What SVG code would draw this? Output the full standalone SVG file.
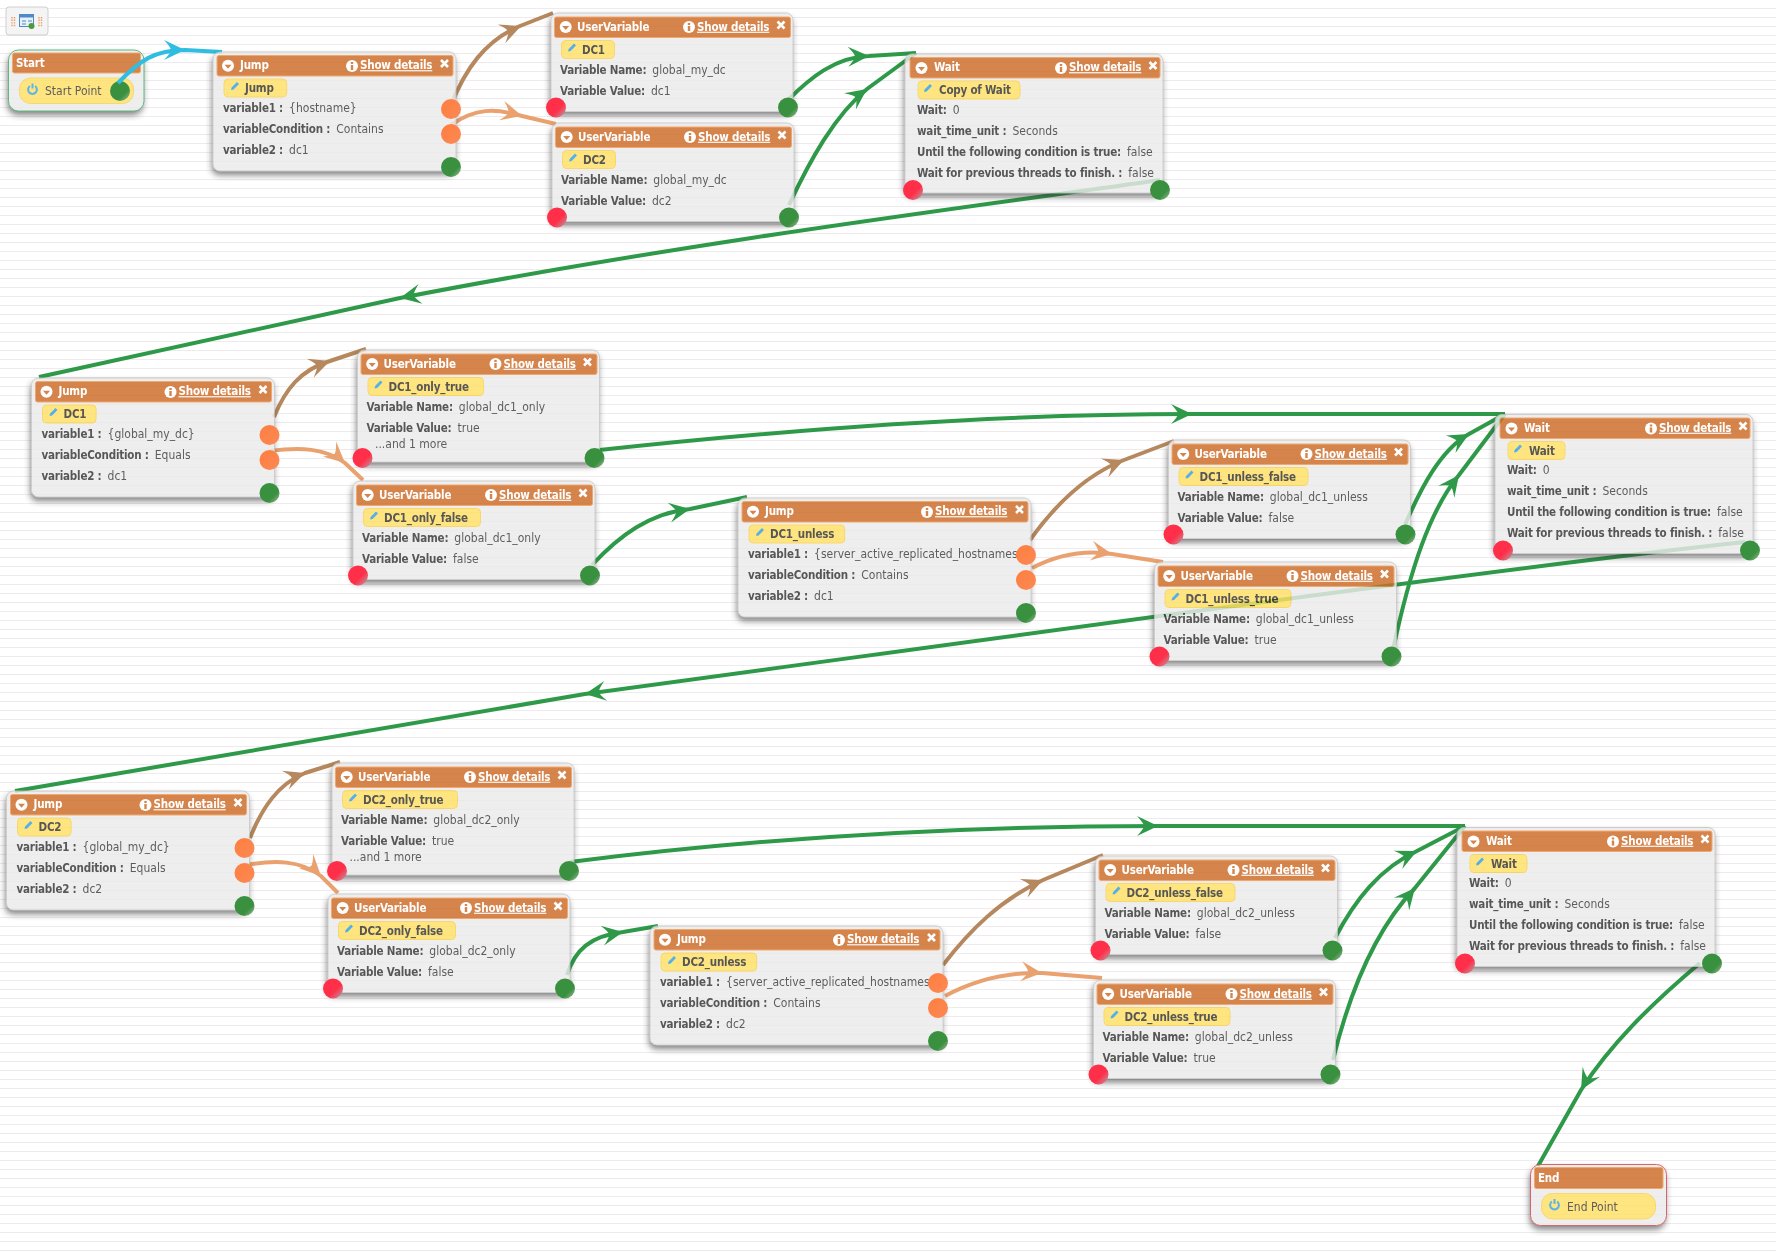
<svg xmlns="http://www.w3.org/2000/svg" width="1776" height="1253" viewBox="0 0 1776 1253">
<style>
text{font-family:"DejaVu Sans",sans-serif;font-stretch:condensed;font-size:12px}
.b{opacity:.82}
.sh{fill:#000;filter:url(#sh)}
.bx{fill:#ebebeb;stroke:#c4c4c4;stroke-width:1}
.hd{fill:#cc6a26;stroke:#ee9550;stroke-width:1}
.pl{fill:#ffe064;stroke:#f7cf50;stroke-width:1}
.ti{fill:#fff;font-weight:bold;font-size:11.5px;letter-spacing:-.2px;transform:translateY(-.8px)}
.sd{fill:#fff;font-weight:bold;font-size:11.5px;letter-spacing:-.2px;text-decoration:underline;transform:translateY(-.8px)}
.k{fill:#333;font-weight:bold;font-size:11.5px;letter-spacing:-.2px}
.v{fill:#3a3a3a}
.nm{fill:#333;font-weight:bold;font-size:11.5px;letter-spacing:-.2px}
.c{fill:none;stroke-width:4;stroke-linecap:butt}
.bl{stroke:#2fbde0}.br{stroke:#b5885e}.or{stroke:#e9a26f}.gr{stroke:#2e9a49}
.fbl{fill:#2fbde0}.fbr{fill:#b5885e}.for{fill:#e9a26f}.fgr{fill:#2e9a49}
</style>
<defs>
<pattern id="bg" width="9" height="9" patternUnits="userSpaceOnUse"><rect y="8" width="9" height="1" fill="#efeaed"/></pattern>
<filter id="sh" x="-10%" y="-15%" width="120%" height="140%"><feGaussianBlur in="SourceAlpha" stdDeviation="3"/><feOffset dx="-1" dy="4" result="o"/><feFlood flood-color="#333" flood-opacity=".75"/><feComposite in2="o" operator="in"/><feComposite in2="SourceAlpha" operator="out"/></filter>
<linearGradient id="gg" x1="0" y1="0" x2="1" y2="1"><stop offset=".68" stop-color="#39913f"/><stop offset="1" stop-color="#a8b8a0"/></linearGradient>
<linearGradient id="gr" x1="0" y1="0" x2="1" y2="1"><stop offset=".6" stop-color="#ff2f4a"/><stop offset="1" stop-color="#b8a0a4"/></linearGradient>
<linearGradient id="go" x1="0" y1="0" x2="1" y2="1"><stop offset="0" stop-color="#ff7d3f"/><stop offset="1" stop-color="#fb8a55"/></linearGradient>
<circle id="pg" r="10" fill="url(#gg)"/>
<circle id="pr" r="10" fill="url(#gr)"/>
<circle id="po" r="10" fill="url(#go)"/>
<path id="ah" d="M0 0L-21 -10Q-14 -2.5 -14 0Q-14 2.5 -21 10Z"/>
<g id="col"><circle r="6" fill="#fff"/><path d="M-3.5 -1H3.5L0 3Z" fill="#cc6a26"/></g>
<g id="inf"><circle r="6" fill="#fff"/><rect x="-1.2" y="-4" width="2.4" height="2" fill="#cc6a26"/><rect x="-1.2" y="-1" width="2.4" height="5" fill="#cc6a26"/></g>
<path id="cl" d="M-3.5 -3.5L3.5 3.5M3.5 -3.5L-3.5 3.5" stroke="#fff" stroke-width="2.6" fill="none"/>
<path id="pn" d="M-4 4L-3.4 1.4L2 -4L4 -2L-1.4 3.4Z" fill="#2f9fe8"/>
<g id="pw" fill="none" stroke="#35a6e6" stroke-width="2"><path d="M-2.6 -3A4.4 4.4 0 1 0 2.6 -3"/><path d="M0 -5.5V-.5"/></g>
</defs>
<rect width="1776" height="1253" fill="#fff"/>
<rect width="1776" height="1253" fill="url(#bg)"/>

<g id="palette">
<rect x="6" y="7" width="42" height="28" rx="3" fill="#f4f4f4" stroke="#cfcfcf"/>
<path d="M12 17V27M14.5 17V27M39 17V27M41.5 17V27" stroke="#ee9a60" stroke-width="1.4" stroke-dasharray="1.4 1.2" fill="none"/>
<rect x="19.5" y="14.5" width="14" height="12" fill="#e8f0fa" stroke="#4d8ac8"/>
<rect x="19.5" y="14.5" width="14" height="3" fill="#4d8ac8"/>
<path d="M22 21H26M22 24H26M28 21H32" stroke="#4d8ac8" fill="none"/>
<circle cx="31.5" cy="26" r="3" fill="#4c9a3c"/>
</g>

<g id="start" transform="translate(8.5,50)"><g class="b"><rect class="sh" width="135.5" height="61" rx="10"/><rect width="135.5" height="61" rx="10" fill="#ebebeb" stroke="#3fa968"/><rect class="hd" x="4" y="3" width="128" height="20" rx="2"/><rect class="pl" x="11" y="28" width="114" height="25.5" rx="11"/><use href="#pw" x="24" y="39"/><text class="ti" x="7.5" y="17.5">Start</text><text class="v" x="36.5" y="45">Start Point</text></g><use href="#pg" x="111.5" y="41"/></g>

<g id="connectors">
<path class="c bl" d="M118 83C140 60 155 50 185 50L222 52"/><use href="#ah" class="fbl" transform="translate(185,50)"/>
<path class="c br" d="M451 105C465 70 485 40 520 26L553 13"/><use href="#ah" class="fbr" transform="translate(521,26) rotate(-22)"/>
<path class="c or" d="M451 125C475 108 495 108 522 116L556 124"/><use href="#ah" class="for" transform="translate(522,116) rotate(15)"/>
<path class="c gr" d="M788 100C810 78 835 57 869 56L916 53"/><use href="#ah" class="fgr" transform="translate(869,56) rotate(-2)"/>
<path class="c gr" d="M789 205C810 160 835 115 867 89L916 53"/><use href="#ah" class="fgr" transform="translate(867,89) rotate(-36)"/>
<path class="c gr" d="M1160 180C1000 203 700 240 400 298L39 377"/><use href="#ah" class="fgr" transform="translate(400,298) rotate(168.7)"/>
<path class="c br" d="M274 417C285 390 300 370 330 361L366 349"/><use href="#ah" class="fbr" transform="translate(330,361) rotate(-20)"/>
<path class="c or" d="M270 451C300 447 325 448 345 463L363 480"/><use href="#ah" class="for" transform="translate(345,463) rotate(42)"/>
<path class="c gr" d="M590 451C800 428 1000 414 1192 414L1505 414"/><use href="#ah" class="fgr" transform="translate(1192,414)"/>
<path class="c gr" d="M592 565C620 535 650 513 690 509L747 497"/><use href="#ah" class="fgr" transform="translate(690,509) rotate(-10)"/>
<path class="c br" d="M1030 540C1055 505 1085 475 1124 460L1174 441"/><use href="#ah" class="fbr" transform="translate(1124,460) rotate(-22)"/>
<path class="c or" d="M1032 568C1055 556 1080 549 1112 554L1163 562"/><use href="#ah" class="for" transform="translate(1112,554) rotate(9)"/>
<path class="c gr" d="M1405 525C1420 490 1440 450 1469 434L1505 414"/><use href="#ah" class="fgr" transform="translate(1469,434) rotate(-29)"/>
<path class="c gr" d="M1393 650C1410 570 1430 510 1459 475L1505 414"/><use href="#ah" class="fgr" transform="translate(1459,475) rotate(-53)"/>
<path class="c gr" d="M1745 542C1500 568 1000 638 585 694L15 791"/><use href="#ah" class="fgr" transform="translate(585,694) rotate(171.5)"/>
<path class="c br" d="M250 838C262 808 278 784 305 773L340 762"/><use href="#ah" class="fbr" transform="translate(305,773) rotate(-20)"/>
<path class="c or" d="M245 865C275 860 300 860 321 876L338 893"/><use href="#ah" class="for" transform="translate(321,876) rotate(45)"/>
<path class="c gr" d="M570 862C760 838 960 826 1158 826L1465 826"/><use href="#ah" class="fgr" transform="translate(1158,826)"/>
<path class="c gr" d="M567 975C575 950 590 936 623 932L658 926"/><use href="#ah" class="fgr" transform="translate(623,932) rotate(-10)"/>
<path class="c br" d="M943 965C970 930 1000 900 1043 880L1103 855"/><use href="#ah" class="fbr" transform="translate(1043,880) rotate(-23)"/>
<path class="c or" d="M945 996C975 980 1005 972 1042 973L1102 978"/><use href="#ah" class="for" transform="translate(1042,973) rotate(5)"/>
<path class="c gr" d="M1335 938C1355 900 1380 868 1417 851L1465 826"/><use href="#ah" class="fgr" transform="translate(1417,851) rotate(-25)"/>
<path class="c gr" d="M1333 1060C1350 990 1375 930 1415 888L1465 826"/><use href="#ah" class="fgr" transform="translate(1415,888) rotate(-50)"/>
<path class="c gr" d="M1700 963C1650 1005 1610 1045 1581 1090L1538 1166"/><use href="#ah" class="fgr" transform="translate(1581,1090) rotate(119.5)"/>
</g>

<g id="jump-1" transform="translate(213,52)"><g class="b"><rect class="sh" width="243" height="119" rx="7"/><rect class="bx" width="243" height="119" rx="7"/><rect class="hd" x="4" y="3.5" width="236" height="20.5" rx="2"/><use href="#col" x="15" y="13.7"/><text class="ti" x="27" y="18">Jump</text><use href="#inf" x="139" y="14"/><text class="sd" x="147" y="18">Show details</text><use href="#cl" x="231.5" y="11.5"/><rect class="pl" x="11" y="27" width="62.7" height="18" rx="4"/><use href="#pn" x="22" y="34"/><text class="nm" x="32" y="40">Jump</text><text x="10" y="59.7"><tspan class="k">variable1 :</tspan><tspan class="v" dx="6">{hostname}</tspan></text><text x="10" y="80.7"><tspan class="k">variableCondition :</tspan><tspan class="v" dx="6">Contains</tspan></text><text x="10" y="101.7"><tspan class="k">variable2 :</tspan><tspan class="v" dx="6">dc1</tspan></text></g><use href="#po" x="238" y="57"/><use href="#po" x="238" y="82"/><use href="#pg" x="238" y="115"/></g>

<g id="uv-dc1" transform="translate(551,13)"><g class="b"><rect class="sh" width="242" height="98.5" rx="7"/><rect class="bx" width="242" height="98.5" rx="7"/><rect class="hd" x="3.5" y="4" width="236" height="20.5" rx="2"/><use href="#col" x="14.7" y="14"/><text class="ti" x="26" y="18.5">UserVariable</text><use href="#inf" x="138" y="14"/><text class="sd" x="146" y="18.5">Show details</text><use href="#cl" x="230" y="12"/><rect class="pl" x="10.5" y="27.5" width="53" height="18" rx="4"/><use href="#pn" x="21" y="34.5"/><text class="nm" x="31" y="40.5">DC1</text><text x="9" y="60.5"><tspan class="k">Variable Name:</tspan><tspan class="v" dx="6">global_my_dc</tspan></text><text x="9" y="81.5"><tspan class="k">Variable Value:</tspan><tspan class="v" dx="6">dc1</tspan></text></g><use href="#pr" x="5" y="94.5"/><use href="#pg" x="237" y="94.5"/></g>

<g id="uv-dc2" transform="translate(552,123)"><g class="b"><rect class="sh" width="242" height="98.5" rx="7"/><rect class="bx" width="242" height="98.5" rx="7"/><rect class="hd" x="3.5" y="4" width="236" height="20.5" rx="2"/><use href="#col" x="14.7" y="14"/><text class="ti" x="26" y="18.5">UserVariable</text><use href="#inf" x="138" y="14"/><text class="sd" x="146" y="18.5">Show details</text><use href="#cl" x="230" y="12"/><rect class="pl" x="10.5" y="27.5" width="53" height="18" rx="4"/><use href="#pn" x="21" y="34.5"/><text class="nm" x="31" y="40.5">DC2</text><text x="9" y="60.5"><tspan class="k">Variable Name:</tspan><tspan class="v" dx="6">global_my_dc</tspan></text><text x="9" y="81.5"><tspan class="k">Variable Value:</tspan><tspan class="v" dx="6">dc2</tspan></text></g><use href="#pr" x="5" y="94.5"/><use href="#pg" x="237" y="94.5"/></g>

<g id="wait-copy" transform="translate(905,54)"><g class="b"><rect class="sh" width="258" height="139" rx="7"/><rect class="bx" width="258" height="139" rx="7"/><rect class="hd" x="5" y="3.5" width="250" height="20.5" rx="2"/><use href="#col" x="16.5" y="14"/><text class="ti" x="29" y="18">Wait</text><use href="#inf" x="156" y="14"/><text class="sd" x="164" y="18">Show details</text><use href="#cl" x="248" y="11.5"/><rect class="pl" x="13" y="27" width="102" height="18" rx="4"/><use href="#pn" x="23" y="34"/><text class="nm" x="34" y="40">Copy of Wait</text><text x="12" y="59.7"><tspan class="k">Wait:</tspan><tspan class="v" dx="6">0</tspan></text><text x="12" y="80.7"><tspan class="k">wait_time_unit :</tspan><tspan class="v" dx="6">Seconds</tspan></text><text x="12" y="101.7"><tspan class="k">Until the following condition is true:</tspan><tspan class="v" dx="6">false</tspan></text><text x="12" y="122.7"><tspan class="k">Wait for previous threads to finish. :</tspan><tspan class="v" dx="6">false</tspan></text></g><use href="#pr" x="8" y="136"/><use href="#pg" x="255" y="136"/></g>

<g id="jump-dc1" transform="translate(31.5,378)"><g class="b"><rect class="sh" width="243" height="119" rx="7"/><rect class="bx" width="243" height="119" rx="7"/><rect class="hd" x="4" y="3.5" width="236" height="20.5" rx="2"/><use href="#col" x="15" y="13.7"/><text class="ti" x="27" y="18">Jump</text><use href="#inf" x="139" y="14"/><text class="sd" x="147" y="18">Show details</text><use href="#cl" x="231.5" y="11.5"/><rect class="pl" x="11" y="27" width="53.6" height="18" rx="4"/><use href="#pn" x="22" y="34"/><text class="nm" x="32" y="40">DC1</text><text x="10" y="59.7"><tspan class="k">variable1 :</tspan><tspan class="v" dx="6">{global_my_dc}</tspan></text><text x="10" y="80.7"><tspan class="k">variableCondition :</tspan><tspan class="v" dx="6">Equals</tspan></text><text x="10" y="101.7"><tspan class="k">variable2 :</tspan><tspan class="v" dx="6">dc1</tspan></text></g><use href="#po" x="238" y="57"/><use href="#po" x="238" y="82"/><use href="#pg" x="238" y="115"/></g>

<g id="uv-dc1-only-true" transform="translate(357.5,350)"><g class="b"><rect class="sh" width="242" height="112" rx="7"/><rect class="bx" width="242" height="112" rx="7"/><rect class="hd" x="3.5" y="4" width="236" height="20.5" rx="2"/><use href="#col" x="14.7" y="14"/><text class="ti" x="26" y="18.5">UserVariable</text><use href="#inf" x="138" y="14"/><text class="sd" x="146" y="18.5">Show details</text><use href="#cl" x="230" y="12"/><rect class="pl" x="10.5" y="27.5" width="115.6" height="18" rx="4"/><use href="#pn" x="21" y="34.5"/><text class="nm" x="31" y="40.5">DC1_only_true</text><text x="9" y="60.5"><tspan class="k">Variable Name:</tspan><tspan class="v" dx="6">global_dc1_only</tspan></text><text x="9" y="81.5"><tspan class="k">Variable Value:</tspan><tspan class="v" dx="6">true</tspan></text><text class="v" x="17.5" y="98">...and 1 more</text></g><use href="#pr" x="5" y="108"/><use href="#pg" x="237" y="108"/></g>

<g id="uv-dc1-only-false" transform="translate(353,481)"><g class="b"><rect class="sh" width="242" height="98.5" rx="7"/><rect class="bx" width="242" height="98.5" rx="7"/><rect class="hd" x="3.5" y="4" width="236" height="20.5" rx="2"/><use href="#col" x="14.7" y="14"/><text class="ti" x="26" y="18.5">UserVariable</text><use href="#inf" x="138" y="14"/><text class="sd" x="146" y="18.5">Show details</text><use href="#cl" x="230" y="12"/><rect class="pl" x="10.5" y="27.5" width="117" height="18" rx="4"/><use href="#pn" x="21" y="34.5"/><text class="nm" x="31" y="40.5">DC1_only_false</text><text x="9" y="60.5"><tspan class="k">Variable Name:</tspan><tspan class="v" dx="6">global_dc1_only</tspan></text><text x="9" y="81.5"><tspan class="k">Variable Value:</tspan><tspan class="v" dx="6">false</tspan></text></g><use href="#pr" x="5" y="94.5"/><use href="#pg" x="237" y="94.5"/></g>

<g id="jump-dc1-unless" transform="translate(738,498)"><g class="b"><rect class="sh" width="293" height="119" rx="7"/><rect class="bx" width="293" height="119" rx="7"/><rect class="hd" x="4" y="3.5" width="286" height="20.5" rx="2"/><use href="#col" x="15" y="13.7"/><text class="ti" x="27" y="18">Jump</text><use href="#inf" x="189" y="14"/><text class="sd" x="197" y="18">Show details</text><use href="#cl" x="281.5" y="11.5"/><rect class="pl" x="11" y="27" width="95.7" height="18" rx="4"/><use href="#pn" x="22" y="34"/><text class="nm" x="32" y="40">DC1_unless</text><text x="10" y="59.7"><tspan class="k">variable1 :</tspan><tspan class="v" dx="6">{server_active_replicated_hostnames</tspan></text><text x="10" y="80.7"><tspan class="k">variableCondition :</tspan><tspan class="v" dx="6">Contains</tspan></text><text x="10" y="101.7"><tspan class="k">variable2 :</tspan><tspan class="v" dx="6">dc1</tspan></text></g><use href="#po" x="288" y="57"/><use href="#po" x="288" y="82"/><use href="#pg" x="288" y="115"/></g>

<g id="uv-dc1-unless-false" transform="translate(1168.5,440)"><g class="b"><rect class="sh" width="242" height="98.5" rx="7"/><rect class="bx" width="242" height="98.5" rx="7"/><rect class="hd" x="3.5" y="4" width="236" height="20.5" rx="2"/><use href="#col" x="14.7" y="14"/><text class="ti" x="26" y="18.5">UserVariable</text><use href="#inf" x="138" y="14"/><text class="sd" x="146" y="18.5">Show details</text><use href="#cl" x="230" y="12"/><rect class="pl" x="10.5" y="27.5" width="129" height="18" rx="4"/><use href="#pn" x="21" y="34.5"/><text class="nm" x="31" y="40.5">DC1_unless_false</text><text x="9" y="60.5"><tspan class="k">Variable Name:</tspan><tspan class="v" dx="6">global_dc1_unless</tspan></text><text x="9" y="81.5"><tspan class="k">Variable Value:</tspan><tspan class="v" dx="6">false</tspan></text></g><use href="#pr" x="5" y="94.5"/><use href="#pg" x="237" y="94.5"/></g>

<g id="uv-dc1-unless-true" transform="translate(1154.5,562)"><g class="b"><rect class="sh" width="242" height="98.5" rx="7"/><rect class="bx" width="242" height="98.5" rx="7"/><rect class="hd" x="3.5" y="4" width="236" height="20.5" rx="2"/><use href="#col" x="14.7" y="14"/><text class="ti" x="26" y="18.5">UserVariable</text><use href="#inf" x="138" y="14"/><text class="sd" x="146" y="18.5">Show details</text><use href="#cl" x="230" y="12"/><rect class="pl" x="10.5" y="27.5" width="126" height="18" rx="4"/><use href="#pn" x="21" y="34.5"/><text class="nm" x="31" y="40.5">DC1_unless_true</text><text x="9" y="60.5"><tspan class="k">Variable Name:</tspan><tspan class="v" dx="6">global_dc1_unless</tspan></text><text x="9" y="81.5"><tspan class="k">Variable Value:</tspan><tspan class="v" dx="6">true</tspan></text></g><use href="#pr" x="5" y="94.5"/><use href="#pg" x="237" y="94.5"/></g>

<g id="wait-2" transform="translate(1495,414.5)"><g class="b"><rect class="sh" width="258" height="139" rx="7"/><rect class="bx" width="258" height="139" rx="7"/><rect class="hd" x="5" y="3.5" width="250" height="20.5" rx="2"/><use href="#col" x="16.5" y="14"/><text class="ti" x="29" y="18">Wait</text><use href="#inf" x="156" y="14"/><text class="sd" x="164" y="18">Show details</text><use href="#cl" x="248" y="11.5"/><rect class="pl" x="13" y="27" width="57" height="18" rx="4"/><use href="#pn" x="23" y="34"/><text class="nm" x="34" y="40">Wait</text><text x="12" y="59.7"><tspan class="k">Wait:</tspan><tspan class="v" dx="6">0</tspan></text><text x="12" y="80.7"><tspan class="k">wait_time_unit :</tspan><tspan class="v" dx="6">Seconds</tspan></text><text x="12" y="101.7"><tspan class="k">Until the following condition is true:</tspan><tspan class="v" dx="6">false</tspan></text><text x="12" y="122.7"><tspan class="k">Wait for previous threads to finish. :</tspan><tspan class="v" dx="6">false</tspan></text></g><use href="#pr" x="8" y="136"/><use href="#pg" x="255" y="136"/></g>

<g id="jump-dc2" transform="translate(6.5,791)"><g class="b"><rect class="sh" width="243" height="119" rx="7"/><rect class="bx" width="243" height="119" rx="7"/><rect class="hd" x="4" y="3.5" width="236" height="20.5" rx="2"/><use href="#col" x="15" y="13.7"/><text class="ti" x="27" y="18">Jump</text><use href="#inf" x="139" y="14"/><text class="sd" x="147" y="18">Show details</text><use href="#cl" x="231.5" y="11.5"/><rect class="pl" x="11" y="27" width="53.6" height="18" rx="4"/><use href="#pn" x="22" y="34"/><text class="nm" x="32" y="40">DC2</text><text x="10" y="59.7"><tspan class="k">variable1 :</tspan><tspan class="v" dx="6">{global_my_dc}</tspan></text><text x="10" y="80.7"><tspan class="k">variableCondition :</tspan><tspan class="v" dx="6">Equals</tspan></text><text x="10" y="101.7"><tspan class="k">variable2 :</tspan><tspan class="v" dx="6">dc2</tspan></text></g><use href="#po" x="238" y="57"/><use href="#po" x="238" y="82"/><use href="#pg" x="238" y="115"/></g>

<g id="uv-dc2-only-true" transform="translate(332,763)"><g class="b"><rect class="sh" width="242" height="112" rx="7"/><rect class="bx" width="242" height="112" rx="7"/><rect class="hd" x="3.5" y="4" width="236" height="20.5" rx="2"/><use href="#col" x="14.7" y="14"/><text class="ti" x="26" y="18.5">UserVariable</text><use href="#inf" x="138" y="14"/><text class="sd" x="146" y="18.5">Show details</text><use href="#cl" x="230" y="12"/><rect class="pl" x="10.5" y="27.5" width="115" height="18" rx="4"/><use href="#pn" x="21" y="34.5"/><text class="nm" x="31" y="40.5">DC2_only_true</text><text x="9" y="60.5"><tspan class="k">Variable Name:</tspan><tspan class="v" dx="6">global_dc2_only</tspan></text><text x="9" y="81.5"><tspan class="k">Variable Value:</tspan><tspan class="v" dx="6">true</tspan></text><text class="v" x="17.5" y="98">...and 1 more</text></g><use href="#pr" x="5" y="108"/><use href="#pg" x="237" y="108"/></g>

<g id="uv-dc2-only-false" transform="translate(328,894)"><g class="b"><rect class="sh" width="242" height="98.5" rx="7"/><rect class="bx" width="242" height="98.5" rx="7"/><rect class="hd" x="3.5" y="4" width="236" height="20.5" rx="2"/><use href="#col" x="14.7" y="14"/><text class="ti" x="26" y="18.5">UserVariable</text><use href="#inf" x="138" y="14"/><text class="sd" x="146" y="18.5">Show details</text><use href="#cl" x="230" y="12"/><rect class="pl" x="10.5" y="27.5" width="117" height="18" rx="4"/><use href="#pn" x="21" y="34.5"/><text class="nm" x="31" y="40.5">DC2_only_false</text><text x="9" y="60.5"><tspan class="k">Variable Name:</tspan><tspan class="v" dx="6">global_dc2_only</tspan></text><text x="9" y="81.5"><tspan class="k">Variable Value:</tspan><tspan class="v" dx="6">false</tspan></text></g><use href="#pr" x="5" y="94.5"/><use href="#pg" x="237" y="94.5"/></g>

<g id="jump-dc2-unless" transform="translate(650,926)"><g class="b"><rect class="sh" width="293" height="119" rx="7"/><rect class="bx" width="293" height="119" rx="7"/><rect class="hd" x="4" y="3.5" width="286" height="20.5" rx="2"/><use href="#col" x="15" y="13.7"/><text class="ti" x="27" y="18">Jump</text><use href="#inf" x="189" y="14"/><text class="sd" x="197" y="18">Show details</text><use href="#cl" x="281.5" y="11.5"/><rect class="pl" x="11" y="27" width="95.7" height="18" rx="4"/><use href="#pn" x="22" y="34"/><text class="nm" x="32" y="40">DC2_unless</text><text x="10" y="59.7"><tspan class="k">variable1 :</tspan><tspan class="v" dx="6">{server_active_replicated_hostnames</tspan></text><text x="10" y="80.7"><tspan class="k">variableCondition :</tspan><tspan class="v" dx="6">Contains</tspan></text><text x="10" y="101.7"><tspan class="k">variable2 :</tspan><tspan class="v" dx="6">dc2</tspan></text></g><use href="#po" x="288" y="57"/><use href="#po" x="288" y="82"/><use href="#pg" x="288" y="115"/></g>

<g id="uv-dc2-unless-false" transform="translate(1095.5,856)"><g class="b"><rect class="sh" width="242" height="98.5" rx="7"/><rect class="bx" width="242" height="98.5" rx="7"/><rect class="hd" x="3.5" y="4" width="236" height="20.5" rx="2"/><use href="#col" x="14.7" y="14"/><text class="ti" x="26" y="18.5">UserVariable</text><use href="#inf" x="138" y="14"/><text class="sd" x="146" y="18.5">Show details</text><use href="#cl" x="230" y="12"/><rect class="pl" x="10.5" y="27.5" width="129" height="18" rx="4"/><use href="#pn" x="21" y="34.5"/><text class="nm" x="31" y="40.5">DC2_unless_false</text><text x="9" y="60.5"><tspan class="k">Variable Name:</tspan><tspan class="v" dx="6">global_dc2_unless</tspan></text><text x="9" y="81.5"><tspan class="k">Variable Value:</tspan><tspan class="v" dx="6">false</tspan></text></g><use href="#pr" x="5" y="94.5"/><use href="#pg" x="237" y="94.5"/></g>

<g id="uv-dc2-unless-true" transform="translate(1093.5,980)"><g class="b"><rect class="sh" width="242" height="98.5" rx="7"/><rect class="bx" width="242" height="98.5" rx="7"/><rect class="hd" x="3.5" y="4" width="236" height="20.5" rx="2"/><use href="#col" x="14.7" y="14"/><text class="ti" x="26" y="18.5">UserVariable</text><use href="#inf" x="138" y="14"/><text class="sd" x="146" y="18.5">Show details</text><use href="#cl" x="230" y="12"/><rect class="pl" x="10.5" y="27.5" width="126" height="18" rx="4"/><use href="#pn" x="21" y="34.5"/><text class="nm" x="31" y="40.5">DC2_unless_true</text><text x="9" y="60.5"><tspan class="k">Variable Name:</tspan><tspan class="v" dx="6">global_dc2_unless</tspan></text><text x="9" y="81.5"><tspan class="k">Variable Value:</tspan><tspan class="v" dx="6">true</tspan></text></g><use href="#pr" x="5" y="94.5"/><use href="#pg" x="237" y="94.5"/></g>

<g id="wait-3" transform="translate(1457,827.5)"><g class="b"><rect class="sh" width="258" height="139" rx="7"/><rect class="bx" width="258" height="139" rx="7"/><rect class="hd" x="5" y="3.5" width="250" height="20.5" rx="2"/><use href="#col" x="16.5" y="14"/><text class="ti" x="29" y="18">Wait</text><use href="#inf" x="156" y="14"/><text class="sd" x="164" y="18">Show details</text><use href="#cl" x="248" y="11.5"/><rect class="pl" x="13" y="27" width="57" height="18" rx="4"/><use href="#pn" x="23" y="34"/><text class="nm" x="34" y="40">Wait</text><text x="12" y="59.7"><tspan class="k">Wait:</tspan><tspan class="v" dx="6">0</tspan></text><text x="12" y="80.7"><tspan class="k">wait_time_unit :</tspan><tspan class="v" dx="6">Seconds</tspan></text><text x="12" y="101.7"><tspan class="k">Until the following condition is true:</tspan><tspan class="v" dx="6">false</tspan></text><text x="12" y="122.7"><tspan class="k">Wait for previous threads to finish. :</tspan><tspan class="v" dx="6">false</tspan></text></g><use href="#pr" x="8" y="136"/><use href="#pg" x="255" y="136"/></g>

<g id="end" transform="translate(1530.5,1164.5)"><g class="b"><rect class="sh" width="136" height="61" rx="10"/><rect width="136" height="61" rx="10" fill="#ebebeb" stroke="#d3404c"/><rect class="hd" x="4" y="3" width="128.5" height="21" rx="2"/><rect class="pl" x="11" y="29" width="114" height="25.5" rx="11"/><use href="#pw" x="24" y="40"/><text class="ti" x="7.5" y="18.5">End</text><text class="v" x="36.5" y="46">End Point</text></g></g>
</svg>
